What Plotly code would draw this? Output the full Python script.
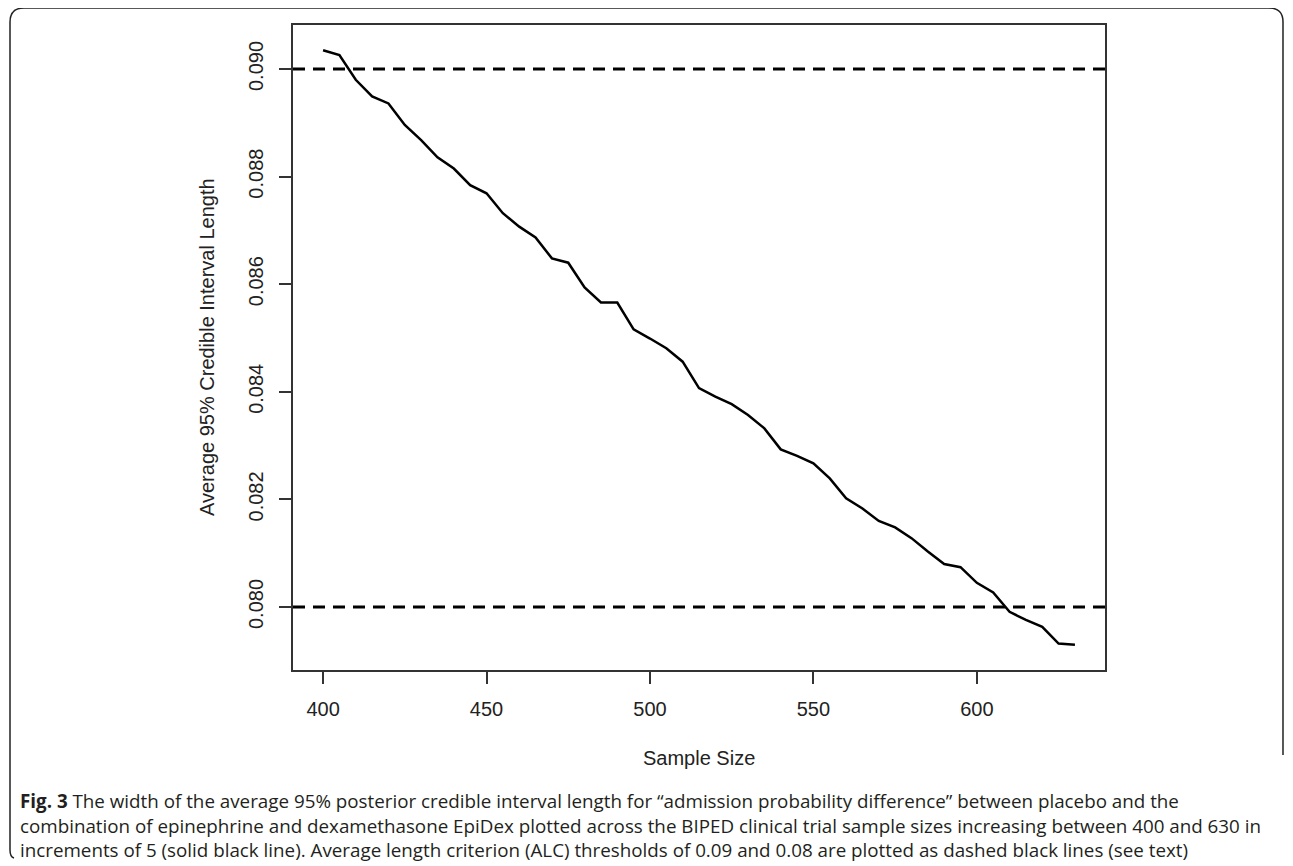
import plotly.graph_objects as go

# ---- data ----
sample_size = list(range(400, 631, 5))
avg_ci_length = [
    0.09035, 0.09026, 0.08980, 0.08949, 0.08936, 0.08896, 0.08868, 0.08836,
    0.08815, 0.08784, 0.08769, 0.08732, 0.08707, 0.08687, 0.08648, 0.08640,
    0.08594, 0.08566, 0.08566, 0.08516, 0.08499, 0.08481, 0.08456, 0.08407,
    0.08391, 0.08377, 0.08357, 0.08332, 0.08293, 0.08281, 0.08267, 0.08239,
    0.08202, 0.08183, 0.08160, 0.08148, 0.08128, 0.08103, 0.08080, 0.08074,
    0.08045, 0.08027, 0.07991, 0.07976, 0.07963, 0.07932, 0.07930,
]
alc_thresholds = [0.09, 0.08]
x_ticks = [400, 450, 500, 550, 600]
y_ticks = [0.080, 0.082, 0.084, 0.086, 0.088, 0.090]

x_title = "Sample Size"
y_title = "Average 95% Credible Interval Length"
caption_lines = [
    "<b>Fig. 3</b> The width of the average 95% posterior credible interval length for \u201cadmission probability difference\u201d between placebo and the",
    "combination of epinephrine and dexamethasone EpiDex plotted across the BIPED clinical trial sample sizes increasing between 400 and 630 in",
    "increments of 5 (solid black line). Average length criterion (ALC) thresholds of 0.09 and 0.08 are plotted as dashed black lines (see text)",
]

# ---- layout geometry (pixels, in screenshot coordinates) ----
OFF = 8  # page body margin
W, H = 1293 - OFF, 866 - OFF
PL, PR, PT, PB = 293, 1105, 25, 670


def px(xp):
    return (xp - PL) / (PR - PL)


def py(yp):
    return (PB - yp) / (PB - PT)


fig = go.Figure()
fig.add_trace(go.Scatter(
    x=sample_size, y=avg_ci_length, mode="lines",
    line=dict(color="black", width=2.5), showlegend=False,
))
for t in alc_thresholds:
    fig.add_hline(y=t, line=dict(color="black", width=3, dash="12px,8px"))

axis_font = dict(family="Liberation Sans, Arial, sans-serif", size=20, color="#222")

fig.update_xaxes(
    range=[390.8, 639.2], tickvals=x_ticks, ticks="outside", ticklen=12,
    tickwidth=1.5, tickcolor="#333", showline=True, linecolor="#333",
    linewidth=1.5, mirror=True, showgrid=False, zeroline=False,
    tickfont=axis_font, ticklabelstandoff=8,
)
fig.update_yaxes(
    range=[0.078829, 0.090818], tickvals=y_ticks, tickformat=".3f",
    ticks="outside", ticklen=12, tickwidth=1.5, tickcolor="#333",
    showline=True, linecolor="#333", linewidth=1.5, mirror=True,
    showgrid=False, zeroline=False, tickfont=axis_font, tickangle=-90,
    ticklabelstandoff=8,
)

cap_font = dict(family="Open Sans, sans-serif", size=18.8, color="#231f20")
fig.add_annotation(text=x_title, x=px(699), y=py(758), xref="paper", yref="paper",
                   showarrow=False, font=axis_font, xanchor="center", yanchor="middle")
fig.add_annotation(text=y_title, x=px(207), y=py(347), xref="paper", yref="paper",
                   showarrow=False, font=axis_font, textangle=-90,
                   xanchor="center", yanchor="middle")
cap_y = [801, 826, 850]
for line, yy in zip(caption_lines, cap_y):
    fig.add_annotation(text=line, x=px(18), y=py(yy), xref="paper", yref="paper",
                       showarrow=False, xanchor="left", yanchor="middle",
                       align="left", font=cap_font)


def pt(xp, yp):
    return f"{px(xp):.5f},{py(yp):.5f}"


border = (
    f"M {pt(1283, 755)} L {pt(1283, 22)} Q {pt(1283, 8)} {pt(1269, 8)} "
    f"L {pt(24, 8)} Q {pt(10, 8)} {pt(10, 22)} L {pt(10, 850)} "
    f"Q {pt(10, 857)} {pt(14, 858)}"
)
fig.add_shape(type="path", path=border, xref="paper", yref="paper",
              line=dict(color="#222", width=1.5, dash="solid"))

fig.update_layout(
    width=W, height=H, autosize=False,
    margin=dict(l=PL - OFF, r=1293 - PR, t=PT - OFF, b=866 - PB),
    paper_bgcolor="white", plot_bgcolor="white",
)

fig.write_html("out.html")
